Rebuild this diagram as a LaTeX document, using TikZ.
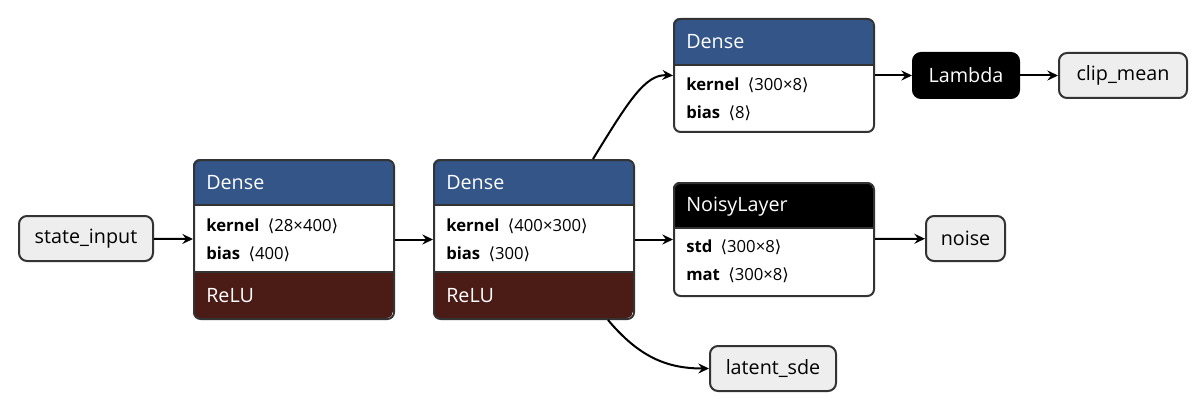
\documentclass[tikz,border=0pt]{standalone}
\usepackage{fontspec}
\setmainfont{Open Sans}
\newfontfamily\bracketfont{DejaVu Sans}
\usetikzlibrary{arrows.meta,positioning}
\definecolor{layerblue}{HTML}{335588}
\definecolor{relubrown}{HTML}{4B1B16}
\definecolor{edgegray}{HTML}{333333}
\definecolor{iofill}{HTML}{EEEEEE}
\newcommand{\shape}[1]{\enspace{\bracketfont⟨}#1{\bracketfont⟩}}
\begin{document}
\begin{tikzpicture}[x=0.75pt,y=-0.75pt,font=\fontsize{14.8}{18}\selectfont,
  frame/.style={draw=edgegray,line width=1.5pt,rounded corners=5pt,minimum width=150pt,anchor=north west,inner sep=0pt},
  io/.style={draw=edgegray,fill=iofill,line width=1.5pt,rounded corners=6pt,minimum height=33.75pt,inner sep=0pt},
  title/.style={text=white,anchor=west,inner sep=0pt},
  attr/.style={anchor=west,inner sep=0pt,font=\fontsize{12.5}{15}\selectfont},
  edge/.style={-{Stealth[length=8pt,width=7.5pt,inset=2.8pt]},line width=1.5pt}]
\useasboundingbox (0,0) rectangle (1204,410);
% blocks with header and activation
\begin{scope}
  \clip[rounded corners=5pt] (193,159) rectangle (393,318);
  \fill[layerblue] (193,159) rectangle (393,205);
  \fill[relubrown] (193,272) rectangle (393,318);
\end{scope}
\begin{scope}
  \clip[rounded corners=5pt] (433,159) rectangle (633,318);
  \fill[layerblue] (433,159) rectangle (633,205);
  \fill[relubrown] (433,272) rectangle (633,318);
\end{scope}
\begin{scope}
  \clip[rounded corners=5pt] (673,18) rectangle (873,131);
  \fill[layerblue] (673,18) rectangle (873,65);
\end{scope}
\begin{scope}
  \clip[rounded corners=5pt] (673,182) rectangle (873,295);
  \fill[black] (673,182) rectangle (873,228);
\end{scope}
\foreach \y in {205,272}{
  \draw[edgegray,line width=0.8pt] (193,\y) -- (393,\y) (433,\y) -- (633,\y);
}
\draw[edgegray,line width=0.8pt] (673,65) -- (873,65) (673,228) -- (873,228);
\node[frame,minimum height=119.25pt] (dense1) at (193,159) {};
\node[frame,minimum height=119.25pt] (dense2) at (433,159) {};
\node[frame,minimum height=84.75pt] (dense3) at (673,18) {};
\node[frame,minimum height=84.75pt] (noisy) at (673,182) {};
% texts
\node[title] at (206,183) {Dense};
\node[attr] at (206,226) {\textbf{kernel}\shape{28×400}};
\node[attr] at (206,254) {\textbf{bias}\shape{400}};
\node[title] at (206,296) {ReLU};
\node[title] at (446,183) {Dense};
\node[attr] at (446,226) {\textbf{kernel}\shape{400×300}};
\node[attr] at (446,254) {\textbf{bias}\shape{300}};
\node[title] at (446,296) {ReLU};
\node[title] at (686,42) {Dense};
\node[attr] at (686,85) {\textbf{kernel}\shape{300×8}};
\node[attr] at (686,113) {\textbf{bias}\shape{8}};
\node[title] at (686,207) {NoisyLayer};
\node[attr] at (686,247) {\textbf{std}\shape{300×8}};
\node[attr] at (686,275) {\textbf{mat}\shape{300×8}};
% inputs / outputs
\node[io,minimum width=100.5pt] (state_input) at (86,238.5) {state\_input};
\node[io,fill=black,text=white,draw=black,minimum width=79.5pt] (lambda) at (966,75.5) {Lambda};
\node[io,minimum width=96pt] (clip_mean) at (1123,75.5) {clip\_mean};
\node[io,minimum width=59.25pt] (noise) at (965.5,238.5) {noise};
\node[io,minimum width=94.5pt] (latent_sde) at (773,368.5) {latent\_sde};
% edges
\draw[edge] (state_input) -- (dense1);
\draw[edge] (dense1) -- (dense2);
\draw[edge] (dense2) -- (noisy);
\draw[edge] (noisy) -- (noise);
\draw[edge] (dense3.east |- lambda) -- (lambda);
\draw[edge] (lambda) -- (clip_mean);
\draw[edge] ([xshift=44.25pt]dense2.north) .. controls (628,102) and (645,74) .. (dense3.west |- lambda);
\draw[edge] ([xshift=55.5pt]dense2.south) .. controls (640,358) and (668,368.5) .. (latent_sde.west);
\end{tikzpicture}
\end{document}
